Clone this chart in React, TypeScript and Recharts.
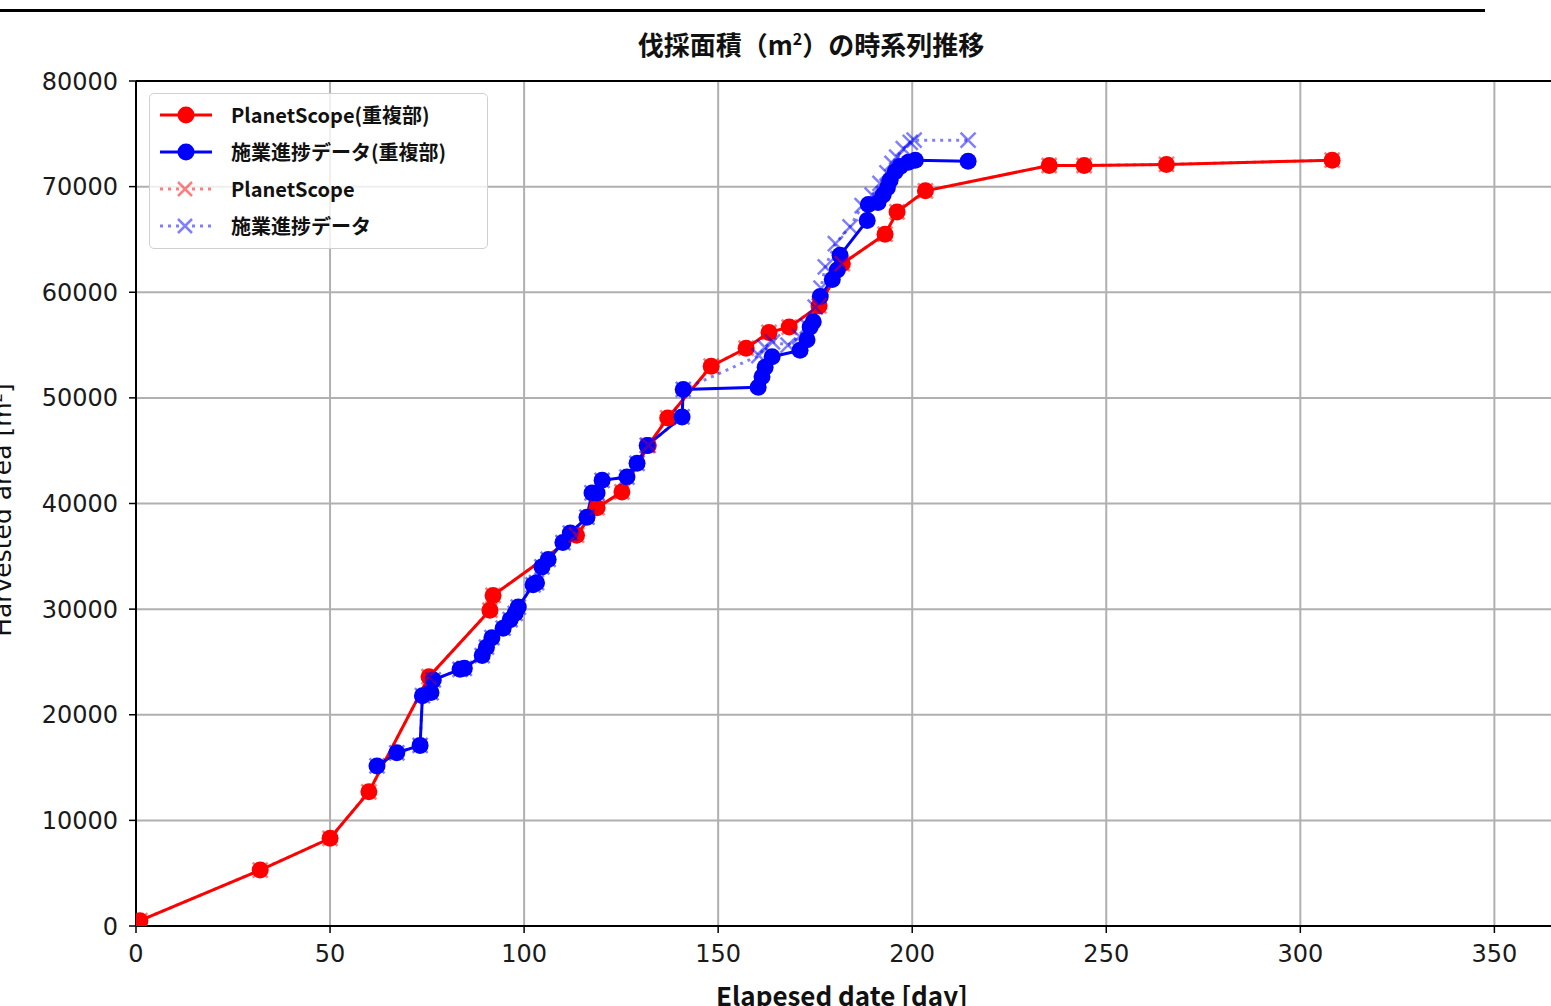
import React from "react";
import {
  LineChart, Line, XAxis, YAxis, CartesianGrid, ReferenceLine,
} from "recharts";

// x ticks / y ticks
const xTicks = [0, 50, 100, 150, 200, 250, 300, 350];
const yTicks = [0, 10000, 20000, 30000, 40000, 50000, 60000, 70000, 80000];

// PlanetScope (overlap part): [day, area m2]
const planetDays = [1, 32, 50, 60, 75.5, 91.2, 92, 113.5, 118.8, 125.2, 132, 137, 148.2, 157.2, 163.1, 168.3, 176, 182, 193, 196.1, 203.4, 235.3, 244.3, 265.5, 308.2];
const planetArea = [500, 5300, 8300, 12700, 23600, 29900, 31300, 37000, 39600, 41100, 45500, 48100, 53000, 54700, 56200, 56700, 58700, 62700, 65500, 67600, 69600, 72000, 72000, 72100, 72500];

// 施業進捗データ (overlap part)
const progressDays = [62.1, 67.2, 73.2, 73.8, 76, 76.6, 83.5, 84.6, 89.2, 90.3, 91.7, 94.6, 96.4, 97.7, 98.5, 102.3, 103.2, 104.6, 106.2, 110, 111.9, 116.2, 117.5, 118.8, 120.1, 126.5, 129.1, 131.7, 140.7, 141, 160.3, 161.3, 162.1, 163.9, 171.1, 172.9, 173.7, 174.5, 176.3, 179.4, 180.7, 181.4, 188.4, 188.7, 191.2, 192.5, 193.6, 194.3, 195.6, 196.9, 199, 200.8, 214.4];
const progressArea = [15150, 16400, 17100, 21800, 22100, 23300, 24300, 24400, 25600, 26400, 27300, 28200, 29000, 29600, 30200, 32300, 32500, 34000, 34700, 36300, 37200, 38700, 41000, 41000, 42200, 42500, 43800, 45500, 48200, 50800, 51000, 52000, 52900, 53900, 54500, 55500, 56700, 57200, 59600, 61200, 62100, 63500, 66800, 68300, 68500, 69200, 69900, 70600, 71400, 71900, 72300, 72500, 72400];

// PlanetScope (all) – lies under the overlap series
const planetAllDays = planetDays;
const planetAllArea = planetArea;

// 施業進捗データ (all)
const progressAllDays = [62.1, 67.2, 73.2, 73.8, 76, 76.6, 83.5, 84.6, 89.2, 90.3, 91.7, 94.6, 96.4, 97.7, 98.5, 102.3, 103.2, 104.6, 106.2, 110, 111.9, 116.2, 117.5, 118.8, 120.1, 126.5, 129.1, 131.7, 140.7, 141, 160.5, 162, 164, 168, 171, 173, 175, 176.5, 177.6, 180.2, 184, 187.1, 189.7, 191.7, 193.5, 194.8, 196, 197.7, 199.5, 200.5, 214.4];
const progressAllArea = [15150, 16400, 17100, 21800, 22100, 23300, 24300, 24400, 25600, 26400, 27300, 28200, 29000, 29600, 30200, 32300, 32500, 34000, 34700, 36300, 37200, 38700, 41000, 41000, 42200, 42500, 43800, 45500, 48200, 50800, 54000, 54800, 55300, 55000, 55800, 56800, 58600, 60400, 62400, 64600, 66200, 68200, 69200, 70300, 71300, 72200, 72800, 73600, 74200, 74400, 74400];

const toRows = (days: number[], area: number[]) => days.map((d, i) => ({ day: d, area: area[i] }));

const RED = "#ff0000";
const BLUE = "#0000ff";
const tickFont = { fontSize: 24, fill: "#1a1a1a", fontFamily: "DejaVu Sans" };
const jp = '"Noto Sans CJK JP", "Noto Sans", sans-serif';

const crossDot = (color: string) => (props: any) => {
  const { cx, cy, index } = props;
  if (cx == null || cy == null) return <g key={index} />;
  const s = 7.5;
  return (
    <path
      key={index}
      d={`M${cx - s},${cy - s}L${cx + s},${cy + s}M${cx - s},${cy + s}L${cx + s},${cy - s}`}
      stroke={color}
      strokeOpacity={0.5}
      strokeWidth={2.5}
      fill="none"
    />
  );
};

const legendItems = [
  { label: "PlanetScope(重複部)", color: RED, dotted: false },
  { label: "施業進捗データ(重複部)", color: BLUE, dotted: false },
  { label: "PlanetScope", color: RED, dotted: true },
  { label: "施業進捗データ", color: BLUE, dotted: true },
];

function LegendBox() {
  return (
    <div
      style={{
        position: "absolute", left: 149, top: 93, width: 337, height: 154,
        border: "1.5px solid #d0d0d0", borderRadius: 5,
        background: "rgba(255,255,255,0.8)",
      }}
    >
      {legendItems.map((it, i) => (
        <div key={i} style={{ position: "absolute", left: 0, top: 6 + i * 37, height: 30, width: 337 }}>
          <svg width={60} height={30} style={{ position: "absolute", left: 8, top: 0 }}>
            {it.dotted ? (
              <g opacity={0.5}>
                <line x1={2} y1={15} x2={54} y2={15} stroke={it.color} strokeWidth={3} strokeDasharray="3 5" />
                <path d="M20,8L34,22M20,22L34,8" stroke={it.color} strokeWidth={2.5} />
              </g>
            ) : (
              <g>
                <line x1={2} y1={15} x2={54} y2={15} stroke={it.color} strokeWidth={3} />
                <circle cx={28} cy={15} r={8.5} fill={it.color} />
              </g>
            )}
          </svg>
          <span
            style={{
              position: "absolute", left: 81, top: 1, fontFamily: jp, fontSize: 20,
              fontWeight: 600, lineHeight: "28px", whiteSpace: "nowrap", color: "#111",
            }}
          >
            {it.label}
          </span>
        </div>
      ))}
    </div>
  );
}

export default function App() {
  return (
    <div style={{ position: "absolute", left: 0, top: 0, width: 1551, height: 1006, overflow: "hidden", background: "#fff" }}>
      <div style={{ position: "absolute", left: 0, top: 9, width: 1485, height: 2.5, background: "#000" }} />
      <div
        style={{
          position: "absolute", left: 511, width: 600, top: 21, textAlign: "center",
          fontFamily: jp, fontWeight: 700, fontSize: 26, lineHeight: "34px", color: "#111",
        }}
      >
        伐採面積（m<sup style={{ fontSize: 16 }}>2</sup>）の時系列推移
      </div>
      <div style={{ position: "absolute", left: 0, top: 0 }}>
        <LineChart width={1600} height={1006} margin={{ top: 81, right: 28, bottom: 0, left: 0 }}>
          <CartesianGrid stroke="#b0b0b0" strokeWidth={2} />
          <XAxis
            dataKey="day" type="number" domain={[0, 370]} ticks={xTicks}
            allowDataOverflow height={80} tick={tickFont} tickSize={7} tickMargin={12}
            axisLine={{ stroke: "#000", strokeWidth: 2 }} tickLine={{ stroke: "#000", strokeWidth: 1.5 }}
          />
          <YAxis
            dataKey="area" type="number" domain={[0, 80000]} ticks={yTicks}
            allowDataOverflow width={136} tick={tickFont} tickSize={7} tickMargin={11}
            axisLine={{ stroke: "#000", strokeWidth: 2 }} tickLine={{ stroke: "#000", strokeWidth: 1.5 }}
          />
          <ReferenceLine y={80000} stroke="#000" strokeWidth={2} />
          <Line
            data={toRows(planetDays, planetArea)} dataKey="area" stroke={RED} strokeWidth={3}
            dot={{ r: 8.5, fill: RED, stroke: RED, strokeWidth: 0 }} isAnimationActive={false}
          />
          <Line
            data={toRows(progressDays, progressArea)} dataKey="area" stroke={BLUE} strokeWidth={3}
            dot={{ r: 8.5, fill: BLUE, stroke: BLUE, strokeWidth: 0 }} isAnimationActive={false}
          />
          <Line
            data={toRows(planetAllDays, planetAllArea)} dataKey="area" stroke={RED} strokeOpacity={0.5}
            strokeWidth={3} strokeDasharray="3 5" dot={crossDot(RED)} isAnimationActive={false}
          />
          <Line
            data={toRows(progressAllDays, progressAllArea)} dataKey="area" stroke={BLUE} strokeOpacity={0.5}
            strokeWidth={3} strokeDasharray="3 5" dot={crossDot(BLUE)} isAnimationActive={false}
          />
        </LineChart>
      </div>
      <LegendBox />
      <div
        style={{
          position: "absolute", left: -153, top: 497, width: 300, textAlign: "center",
          transform: "rotate(-90deg)", transformOrigin: "150px 13px",
          fontFamily: "DejaVu Sans", fontSize: 25, lineHeight: "26px", color: "#111", whiteSpace: "nowrap",
        }}
      >
        Harvested area [m<sup style={{ fontSize: 15 }}>2</sup>]
      </div>
      <div
        style={{
          position: "absolute", left: 642, width: 400, top: 978, textAlign: "center",
          fontFamily: jp, fontWeight: 700, fontSize: 26, lineHeight: "34px", color: "#111",
        }}
      >
        Elapesed date [day]
      </div>
    </div>
  );
}
